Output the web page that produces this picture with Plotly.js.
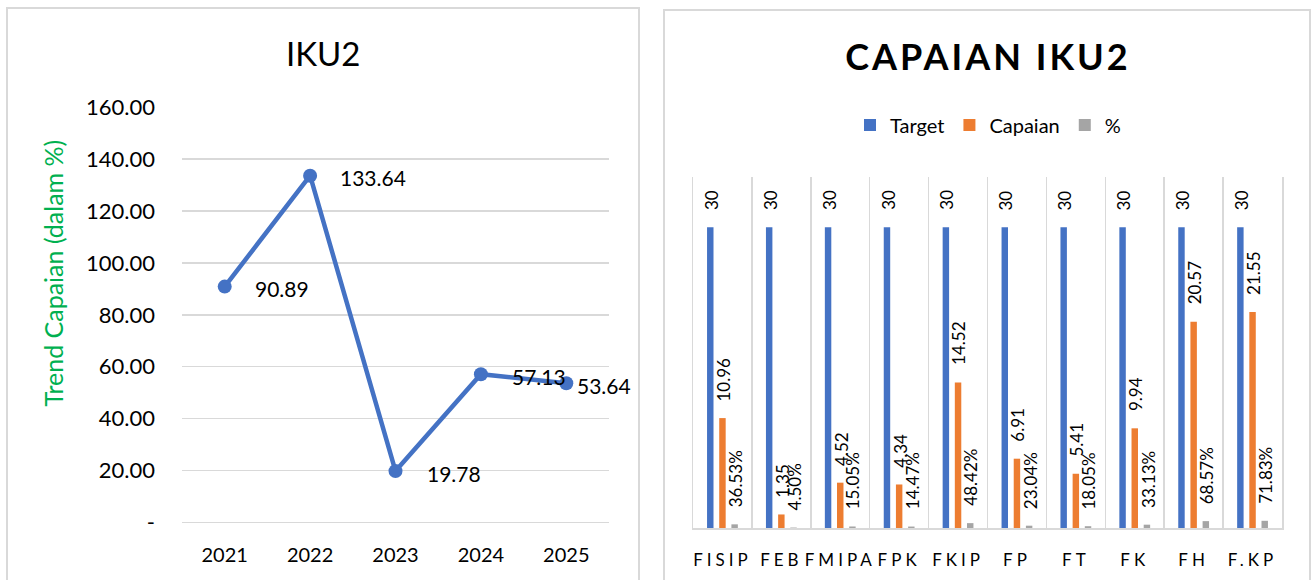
<!DOCTYPE html>
<html>
<head>
<meta charset="utf-8">
<script src="https://cdn.plot.ly/plotly-3.0.1.min.js"></script>
<style>
  html, body { margin: 0; padding: 0; background: #fff; }
  #chart { width: 1312px; height: 580px; }
  .gtitle { letter-spacing: 3px; }
  .x2tick text { letter-spacing: 4px; }
</style>
</head>
<body>
<div id="chart"></div>
<script>
// ---- Left chart data (IKU2 trend) ----
const years = ['2021', '2022', '2023', '2024', '2025'];
const trendValues = [90.89, 133.64, 19.78, 57.13, 53.64];
const trendTickVals = [0, 20, 40, 60, 80, 100, 120, 140, 160];
const trendTickText = ['-', '20.00', '40.00', '60.00', '80.00', '100.00', '120.00', '140.00', '160.00'];

// ---- Right chart data (Capaian IKU2) ----
const faculties = ['FISIP', 'FEB', 'FMIPA', 'FPK', 'FKIP', 'FP', 'FT', 'FK', 'FH', 'F.KP'];
const targetValues = [30, 30, 30, 30, 30, 30, 30, 30, 30, 30];
const capaianValues = [10.96, 1.35, 4.52, 4.34, 14.52, 6.91, 5.41, 9.94, 20.57, 21.55];
const persenValues = [36.53, 4.50, 15.05, 14.47, 48.42, 23.04, 18.05, 33.13, 68.57, 71.83];
const seriesNames = ['Target', 'Capaian', '%'];

// ---- styles ----
const FONT = 'Lato, "Open Sans", sans-serif';
const BLUE = '#4472C4', ORANGE = '#ED7D31', GRAY = '#A5A5A5';
const GRID = '#D9D9D9';
const W = 1312, H = 580;
// label offsets (px) for the trend data labels
const trendLabelXShift = [28, 28, 29, 29, 9];

const traces = [
  {
    type: 'scatter', mode: 'lines+markers',
    x: years, y: trendValues,
    xaxis: 'x', yaxis: 'y',
    line: { color: BLUE, width: 4.5 },
    marker: { color: BLUE, size: 14 },
    showlegend: false, cliponaxis: false, hoverinfo: 'x+y'
  },
  {
    type: 'bar', name: seriesNames[0], x: faculties, y: targetValues,
    xaxis: 'x2', yaxis: 'y2', marker: { color: BLUE }
  },
  {
    type: 'bar', name: seriesNames[1], x: faculties, y: capaianValues,
    xaxis: 'x2', yaxis: 'y2', marker: { color: ORANGE }
  },
  {
    type: 'bar', name: seriesNames[2], x: faculties, y: persenValues.map(v => v / 100),
    xaxis: 'x2', yaxis: 'y2', marker: { color: GRAY }
  }
];

const annotations = [];
// Left chart title
annotations.push({
  text: 'IKU2', xref: 'paper', yref: 'paper',
  x: 323 / W, y: 1 - 52.7 / H, xanchor: 'center', yanchor: 'middle',
  showarrow: false, font: { family: FONT, size: 33, color: '#000' }
});
// Left y-axis title
annotations.push({
  text: 'Trend Capaian (dalam %)', xref: 'paper', yref: 'paper',
  x: 52.6 / W, y: 1 - 273 / H, xanchor: 'center', yanchor: 'middle',
  textangle: -90, showarrow: false,
  font: { family: FONT, size: 25, color: '#00B050' }
});
// Trend data labels (x given as category index of each year)
years.forEach((yr, i) => {
  annotations.push({
    text: trendValues[i].toFixed(2), x: i, y: trendValues[i],
    xref: 'x', yref: 'y', xanchor: 'left', yanchor: 'middle',
    xshift: trendLabelXShift[i], yshift: -2, showarrow: false,
    font: { family: FONT, size: 21, color: '#000' }
  });
});
// Bar data labels
const barShift = [-11.5, 1, 13];
faculties.forEach((f, i) => {
  const vals = [targetValues[i], capaianValues[i], persenValues[i] / 100];
  const texts = [String(targetValues[i]), capaianValues[i].toFixed(2), persenValues[i].toFixed(2) + '%'];
  vals.forEach((v, k) => {
    annotations.push({
      text: texts[k], x: i, y: v, xref: 'x2', yref: 'y2',
      xanchor: 'center', yanchor: 'bottom', textangle: -90,
      xshift: barShift[k], yshift: 15, showarrow: false,
      font: { family: FONT, size: 17, color: '#000' }
    });
  });
});

const shapes = [
  { type: 'rect', xref: 'paper', yref: 'paper', x0: 7 / W, x1: 639 / W, y0: -0.05, y1: 1 - 8 / H,
    line: { color: GRID, width: 2 }, fillcolor: 'rgba(0,0,0,0)', layer: 'below' },
  { type: 'rect', xref: 'paper', yref: 'paper', x0: 664 / W, x1: 1310 / W, y0: -0.05, y1: 1 - 10 / H,
    line: { color: GRID, width: 2 }, fillcolor: 'rgba(0,0,0,0)', layer: 'below' }
];

const layout = {
  width: W, height: H,
  margin: { l: 0, r: 0, t: 0, b: 0 },
  paper_bgcolor: '#fff', plot_bgcolor: 'rgba(0,0,0,0)',
  font: { family: FONT, color: '#000' },
  title: {
    text: '<b>CAPAIAN IKU2</b>',
    x: 988 / W, xanchor: 'center', xref: 'paper',
    y: 1 - 57.5 / H, yanchor: 'middle', yref: 'paper',
    font: { family: FONT, size: 36, color: '#000' }
  },
  barmode: 'group', bargap: 0.38, bargroupgap: 0.47,
  showlegend: true,
  legend: {
    orientation: 'h', x: 988 / W, xanchor: 'center', y: 1 - 125 / H, yanchor: 'middle',
    font: { family: FONT, size: 20, color: '#000' }, bgcolor: 'rgba(0,0,0,0)',
    traceorder: 'normal', itemwidth: 30
  },
  xaxis: {
    domain: [182 / W, 609 / W], anchor: 'y', type: 'category',
    range: [-0.5, 4.5], showgrid: false, zeroline: false, showline: false,
    ticks: '', tickfont: { family: FONT, size: 20, color: '#000' },
    ticklabelstandoff: 19, fixedrange: true
  },
  yaxis: {
    domain: [(H - 522.4) / H, (H - 107.3) / H], anchor: 'x',
    range: [0, 160], tickvals: trendTickVals, ticktext: trendTickText,
    showgrid: true, gridcolor: GRID, gridwidth: 1.5,
    zeroline: true, zerolinecolor: GRID, zerolinewidth: 1.5,
    showline: false, ticks: '', tickfont: { family: FONT, size: 22, color: '#000' },
    ticklabelstandoff: 26, fixedrange: true
  },
  xaxis2: {
    domain: [693 / W, 1282 / W], anchor: 'y2', type: 'category',
    tickson: 'boundaries', showgrid: true, gridcolor: GRID, gridwidth: 1.5,
    showline: true, linecolor: GRID, linewidth: 1.5, ticks: '', tickangle: 0,
    tickfont: { family: FONT, size: 17, color: '#000' },
    ticklabelstandoff: 16, fixedrange: true
  },
  yaxis2: {
    domain: [(H - 528) / H, (H - 177) / H], anchor: 'x2',
    range: [0, 35], showgrid: false, zeroline: false,
    showline: true, mirror: true, linecolor: GRID, linewidth: 1.5,
    showticklabels: false, ticks: '', fixedrange: true
  },
  annotations: annotations,
  shapes: shapes
};

Plotly.newPlot('chart', traces, layout, { displayModeBar: false, staticPlot: true });
</script>
</body>
</html>
